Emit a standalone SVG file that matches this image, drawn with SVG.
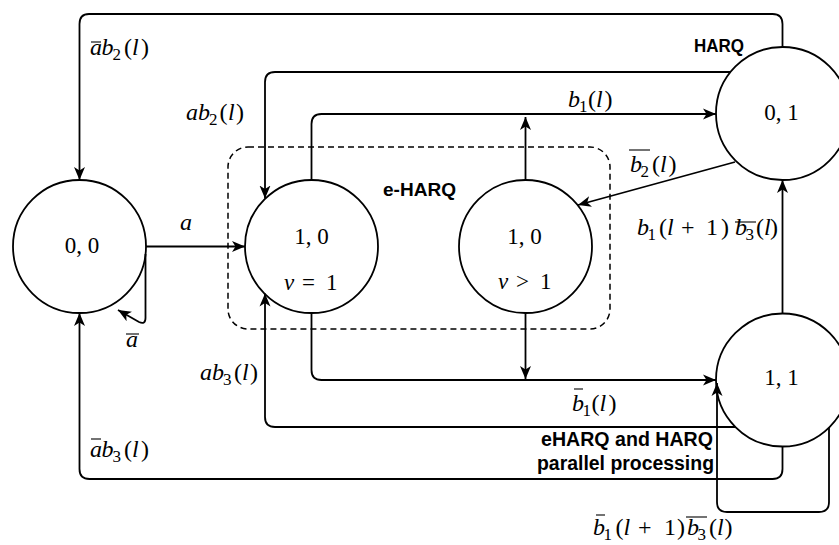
<svg xmlns="http://www.w3.org/2000/svg" width="839" height="545" viewBox="0 0 839 545">
  <style>
    .node { fill: #fff; stroke: #000; stroke-width: 1.8; }
    .edge { fill: none; stroke: #000; stroke-width: 1.8; marker-end: url(#arr); }
    .m { font-family: "Liberation Serif", "Times New Roman", serif; font-size: 24px; fill: #000; }
    .nm { font-family: "Liberation Serif", "Times New Roman", serif; font-size: 23px; fill: #000; }
    .n { font-family: "Liberation Serif", "Times New Roman", serif; font-size: 23px; fill: #000; text-anchor: middle; }
    .i { font-style: italic; }
    .s { font-size: 17px; font-style: normal; }
    .bar { stroke: #000; stroke-width: 1.1; }
    .b { font-family: "Liberation Sans", Arial, sans-serif; font-weight: bold; fill: #000; }
  </style>
  <defs>
    <marker id="arr" markerUnits="userSpaceOnUse" markerWidth="14" markerHeight="12" viewBox="0 0 14 12" refX="13" refY="6" orient="auto">
      <path d="M0,0.5 L13,6 L0,11.5 L3.5,6 Z" fill="#000"/>
    </marker>
  </defs>
  <rect width="839" height="545" fill="#fff"/>

  <!-- e-HARQ group boundary -->
  <g id="group-eharq">
    <rect x="228" y="147" width="382" height="182" rx="20" ry="20" fill="none" stroke="#000" stroke-width="1.5" stroke-dasharray="6 4"/>
    <text class="b" x="383" y="196" font-size="18" textLength="73" lengthAdjust="spacingAndGlyphs">e-HARQ</text>
  </g>

  <!-- states -->
  <g id="node-00">
    <circle class="node" cx="79.5" cy="246.5" r="66.5"/>
    <text class="n" x="82" y="253">0, 0</text>
  </g>
  <g id="node-10-v1">
    <circle class="node" cx="311.5" cy="246.5" r="66.5"/>
    <text class="n" x="311.5" y="244">1, 0</text>
    <text class="nm"><tspan class="i" x="284" y="290">v</tspan><tspan x="302" y="290">=</tspan><tspan x="326" y="290">1</tspan></text>
  </g>
  <g id="node-10-vgt1">
    <circle class="node" cx="525.5" cy="246.5" r="66.5"/>
    <text class="n" x="524.5" y="244">1, 0</text>
    <text class="nm"><tspan class="i" x="498" y="289">v</tspan><tspan x="516" y="289">&gt;</tspan><tspan x="540" y="289">1</tspan></text>
  </g>
  <g id="node-01">
    <circle class="node" cx="782.5" cy="113.5" r="66.5"/>
    <text class="n" x="781.5" y="120">0, 1</text>
  </g>
  <g id="node-11">
    <circle class="node" cx="782.5" cy="380" r="66.5"/>
    <text class="n" x="781.5" y="385">1, 1</text>
  </g>

  <!-- transitions -->
  <g id="connectors">
    <path class="edge" d="M782.5,47 V24 Q782.5,14 772.5,14 H89 Q79.5,14 79.5,24 V180"/>
    <path class="edge" d="M730.5,72 H275 Q265,72 265,82 V198.5"/>
    <path class="edge" d="M311.5,180 V124 Q311.5,114 321.5,114 H716"/>
    <path class="edge" d="M525.5,180 V117"/>
    <path class="edge" d="M735,162 L578,205"/>
    <path class="edge" d="M782.5,313.5 V180"/>
    <path class="edge" d="M146,246.5 H245"/>
    <path class="edge" d="M145.5,254 V318 Q145.5,325 139,322 L118,310"/>
    <path class="edge" d="M311.5,313 V370 Q311.5,380 321.5,380 H716"/>
    <path class="edge" d="M525.5,313 V379"/>
    <path class="edge" d="M735.5,427 H275 Q265,427 265,417 V293.5"/>
    <path class="edge" d="M782.5,446.5 V469 Q782.5,479 772.5,479 H89.5 Q79.5,479 79.5,469 V313"/>
    <path class="edge" d="M829,427.5 V502 Q829,512 819,512 H727 Q717,512 717,502 V383"/>
  </g>

  <!-- transition labels -->
  <g id="labels">
    <text class="m"><tspan class="i" x="90" y="55">a</tspan><tspan class="i" x="101.5" y="55">b</tspan><tspan class="s" x="112.5" y="60">2</tspan><tspan x="124" y="55">(</tspan><tspan class="i" x="132" y="55">l</tspan><tspan x="141" y="55">)</tspan></text>
    <line class="bar" x1="91" y1="42" x2="101" y2="42"/>

    <text class="m"><tspan class="i" x="186" y="120">a</tspan><tspan class="i" x="198" y="120">b</tspan><tspan class="s" x="209" y="125">2</tspan><tspan x="219.5" y="120">(</tspan><tspan class="i" x="228" y="120">l</tspan><tspan x="236" y="120">)</tspan></text>

    <text class="m"><tspan class="i" x="568" y="107">b</tspan><tspan class="s" x="579" y="112">1</tspan><tspan x="588" y="107">(</tspan><tspan class="i" x="596" y="107">l</tspan><tspan x="604.5" y="107">)</tspan></text>

    <text class="m"><tspan class="i" x="630" y="172">b</tspan><tspan class="s" x="640.5" y="177">2</tspan><tspan x="652" y="172">(</tspan><tspan class="i" x="660" y="172">l</tspan><tspan x="668.5" y="172">)</tspan></text>
    <line class="bar" x1="629" y1="150" x2="650" y2="150"/>

    <text class="m"><tspan class="i" x="180" y="230">a</tspan></text>

    <text class="m"><tspan class="i" x="126" y="347">a</tspan></text>
    <line class="bar" x1="126" y1="334" x2="139" y2="334"/>

    <text class="m"><tspan class="i" x="200" y="380">a</tspan><tspan class="i" x="212" y="380">b</tspan><tspan class="s" x="223" y="385">3</tspan><tspan x="234" y="380">(</tspan><tspan class="i" x="242" y="380">l</tspan><tspan x="250" y="380">)</tspan></text>

    <text class="m"><tspan class="i" x="90" y="457">a</tspan><tspan class="i" x="101.5" y="457">b</tspan><tspan class="s" x="112.5" y="462">3</tspan><tspan x="124" y="457">(</tspan><tspan class="i" x="132" y="457">l</tspan><tspan x="141" y="457">)</tspan></text>
    <line class="bar" x1="91" y1="439" x2="101" y2="439"/>

    <text class="m"><tspan class="i" x="572" y="411">b</tspan><tspan class="s" x="582.5" y="416">1</tspan><tspan x="591.5" y="411">(</tspan><tspan class="i" x="599.5" y="411">l</tspan><tspan x="608.5" y="411">)</tspan></text>
    <line class="bar" x1="574" y1="389" x2="583" y2="389"/>

    <text class="m"><tspan class="i" x="637" y="235">b</tspan><tspan class="s" x="647.5" y="240">1</tspan><tspan x="659" y="235">(</tspan><tspan class="i" x="667" y="235">l</tspan><tspan x="681" y="235">+</tspan><tspan x="706" y="235">1</tspan><tspan x="721" y="235">)</tspan><tspan class="i" x="735" y="235">b</tspan><tspan class="s" x="745.5" y="240">3</tspan><tspan x="756" y="235">(</tspan><tspan class="i" x="764" y="235">l</tspan><tspan x="770" y="235">)</tspan></text>
    <line class="bar" x1="735" y1="222" x2="756" y2="222"/>

    <text class="m"><tspan class="i" x="593" y="535">b</tspan><tspan class="s" x="603.5" y="540">1</tspan><tspan x="615.5" y="535">(</tspan><tspan class="i" x="623.5" y="535">l</tspan><tspan x="638" y="535">+</tspan><tspan x="664" y="535">1</tspan><tspan x="677" y="535">)</tspan><tspan class="i" x="687" y="535">b</tspan><tspan class="s" x="697.5" y="540">3</tspan><tspan x="709" y="535">(</tspan><tspan class="i" x="717" y="535">l</tspan><tspan x="724.5" y="535">)</tspan></text>
    <line class="bar" x1="596" y1="515" x2="605" y2="515"/>
    <line class="bar" x1="686" y1="517" x2="707" y2="517"/>

    <text class="b" x="694" y="52" font-size="18" textLength="50" lengthAdjust="spacingAndGlyphs">HARQ</text>
    <text class="b" x="541" y="446" font-size="19.5" textLength="172" lengthAdjust="spacingAndGlyphs">eHARQ and HARQ</text>
    <text class="b" x="537" y="470" font-size="19.5" textLength="177" lengthAdjust="spacingAndGlyphs">parallel processing</text>
  </g>
</svg>
